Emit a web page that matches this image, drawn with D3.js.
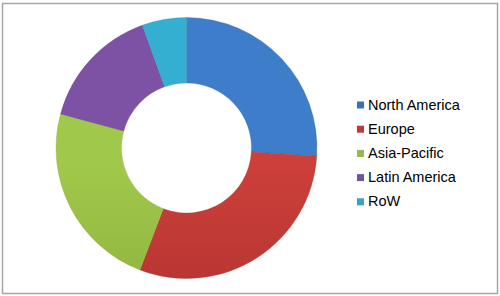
<!DOCTYPE html>
<html>
<head>
<meta charset="utf-8">
<script src="https://cdn.jsdelivr.net/npm/d3@7"></script>
<style>
  html, body { margin: 0; padding: 0; background: #fff; }
  svg { display: block; }
</style>
</head>
<body>
<div id="chart"></div>
<script>
var regions = ["North America", "Europe", "Asia-Pacific", "Latin America", "RoW"];
var shares = [26.0, 29.8, 23.4, 15.3, 5.5];
var lightColors = ["#3d7dca", "#cc3f3a", "#a0c84a", "#7d52a4", "#35afd1"];
var darkColors = ["#2c5c9b", "#a02c2a", "#82a238", "#5d3e7e", "#2689a4"];
var swatchColors = ["#3c6fb5", "#c13a35", "#97b946", "#7453a0", "#33a5c4"];

var width = 500,
    height = 296;

var cx = 186.5,
    cy = 148,
    outerR = 130.5,
    innerR = 65;

var svg = d3.select("#chart")
  .append("svg")
    .attr("width", width)
    .attr("height", height);

// frame
svg.append("rect")
  .attr("x", 2.5)
  .attr("y", 3.5)
  .attr("width", 495)
  .attr("height", 290)
  .attr("fill", "#fff")
  .attr("stroke", "#a6a6a6")
  .attr("stroke-width", 1.5);

var defs = svg.append("defs");
regions.forEach(function(r, i) {
  var grad = defs.append("linearGradient")
    .attr("id", "grad" + i)
    .attr("gradientUnits", "userSpaceOnUse")
    .attr("x1", 0).attr("y1", cy - outerR)
    .attr("x2", 0).attr("y2", cy + outerR);
  grad.append("stop").attr("offset", "0%").attr("stop-color", lightColors[i]);
  grad.append("stop").attr("offset", "100%").attr("stop-color", darkColors[i]);
});

var pie = d3.pie()
  .sort(null)
  .value(function(d) { return d; });

var arc = d3.arc()
  .innerRadius(innerR)
  .outerRadius(outerR);

var donut = svg.append("g")
  .attr("transform", "translate(" + cx + "," + cy + ")");

donut.selectAll("path")
  .data(pie(shares))
  .enter()
    .append("path")
    .attr("d", arc)
    .attr("fill", function(d, i) { return "url(#grad" + i + ")"; })
    .attr("stroke", function(d, i) { return darkColors[i]; })
    .attr("stroke-width", 0.3);

// legend
var legendX = 357,
    legendY = 109.5,
    rowGap = 24.2;

var legend = svg.append("g")
  .selectAll("g")
  .data(regions)
  .enter()
    .append("g")
    .attr("transform", function(d, i) { return "translate(" + legendX + "," + (legendY + i * rowGap) + ")"; });

legend.append("rect")
  .attr("x", 0)
  .attr("y", -8)
  .attr("width", 7)
  .attr("height", 7)
  .attr("fill", function(d, i) { return swatchColors[i]; });

legend.append("text")
  .attr("x", 11)
  .attr("y", 0)
  .attr("font-family", "'Liberation Sans', Arial, sans-serif")
  .attr("font-size", "14.5px")
  .attr("fill", "#000")
  .text(function(d) { return d; });
</script>
</body>
</html>
